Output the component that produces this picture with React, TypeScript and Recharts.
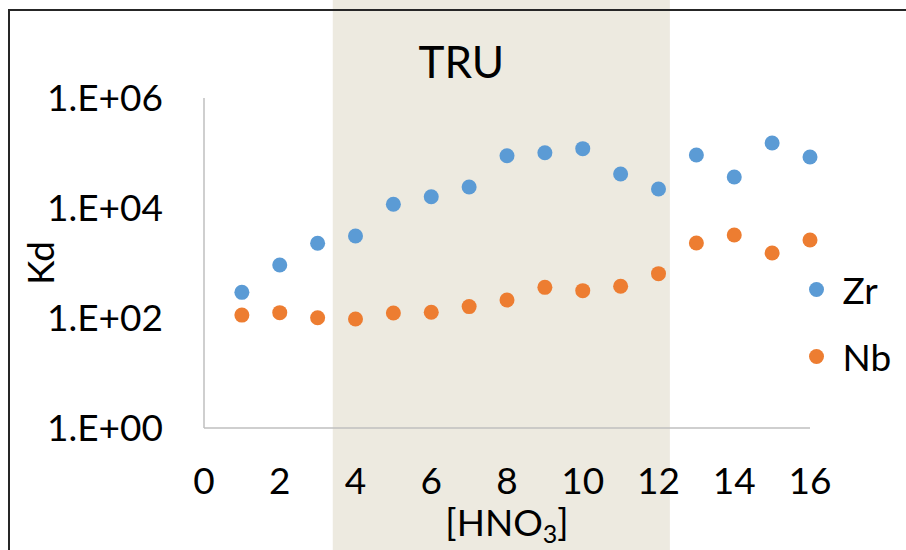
import React from 'react'
import { Label, Legend, ReferenceArea, Scatter, ScatterChart, XAxis, YAxis } from 'recharts'

const hno3 = [1, 2, 3, 4, 5, 6, 7, 8, 9, 10, 11, 12, 13, 14, 15, 16]
const zrKd = [293, 920, 2280, 3100, 11700, 16000, 24100, 89300, 101000, 120000, 41500, 22200, 92000, 36600, 152000, 84600]
const nbKd = [113, 125, 101, 96, 123, 127, 161, 212, 361, 314, 377, 640, 2310, 3230, 1520, 2620]
const xTicks = [0, 2, 4, 6, 8, 10, 12, 14, 16]
const yTicks = [1, 100, 10000, 1000000]
const truRange = [3.4, 12.3]

const series = [
  { name: 'Zr', color: '#5B9BD5', values: zrKd },
  { name: 'Nb', color: '#ED7D31', values: nbKd }
]

const W = 906
const H = 550
const font = 'Lato, "Open Sans", sans-serif'

const fmtExp = (v: number) => {
  const e = Math.round(Math.log10(v))
  return `1.E+${String(e).padStart(2, '0')}`
}

const Dot = (color: string) => (p: any) => <circle cx={p.cx} cy={p.cy} r={7.5} fill={color} />

const LegendBox = () => (
  <div style={{ fontFamily: font, fontSize: 37, color: '#000' }}>
    {series.map((s) => (
      <div key={s.name} style={{ display: 'flex', alignItems: 'center', height: 67 }}>
        <span style={{ width: 15, height: 15, borderRadius: '50%', background: s.color, marginLeft: 2.5, marginRight: 19 }} />
        <span style={{ lineHeight: '37px' }}>{s.name}</span>
      </div>
    ))}
  </div>
)

export default function App() {
  return (
    <div style={{ position: 'absolute', left: 0, top: 0, width: W, height: H, overflow: 'hidden', background: '#fff', fontFamily: font }}>
      <ScatterChart width={W} height={H} margin={{ top: 98, right: 96, left: 0, bottom: 0 }}>
        <ReferenceArea
          x1={truRange[0]}
          x2={truRange[1]}
          ifOverflow="visible"
          shape={(p: any) => <rect x={p.x} y={0} width={p.width} height={H} fill="#EDEAE0" />}
        >
          <Label value="TRU" position="top" offset={20} dx={-40} style={{ fontSize: 44, fill: '#000', fontFamily: font }} />
        </ReferenceArea>
        <XAxis
          type="number"
          dataKey="x"
          domain={[0, 16]}
          ticks={xTicks}
          height={122}
          tickLine={false}
          tickMargin={34}
          axisLine={{ stroke: '#BFBFBF', strokeWidth: 1.5 }}
          tick={{ fontSize: 37, fill: '#000', fontFamily: font }}
        >
          <Label
            content={(p: any) => {
              const vb = p.viewBox
              return (
                <text x={vb.x + vb.width / 2} y={vb.y + 108} textAnchor="middle" fontSize={37} fontFamily={font} fill="#000">
                  <tspan>[HNO</tspan>
                  <tspan fontSize={25} dy={7}>3</tspan>
                  <tspan dy={-7}>]</tspan>
                </text>
              )
            }}
          />
        </XAxis>
        <YAxis
          type="number"
          dataKey="y"
          scale="log"
          domain={[1, 1000000]}
          ticks={yTicks}
          width={204}
          tickLine={false}
          tickMargin={35}
          tickFormatter={fmtExp}
          axisLine={{ stroke: '#BFBFBF', strokeWidth: 1.5 }}
          tick={{ fontSize: 37, fill: '#000', fontFamily: font }}
        >
          <Label value="Kd" angle={-90} position="center" dx={-61} style={{ fontSize: 37, fill: '#000', fontFamily: font }} />
        </YAxis>
        <Legend
          layout="vertical"
          align="center"
          verticalAlign="middle"
          wrapperStyle={{ left: 806, top: 256, width: 100 }}
          content={() => <LegendBox />}
        />
        {series.map((s) => (
          <Scatter
            key={s.name}
            name={s.name}
            data={hno3.map((x, i) => ({ x, y: s.values[i] }))}
            fill={s.color}
            shape={Dot(s.color)}
            isAnimationActive={false}
          />
        ))}
      </ScatterChart>
      <div
        style={{
          position: 'absolute',
          left: 8,
          top: 9,
          width: 1000,
          height: 1000,
          border: '2px solid #262626',
          pointerEvents: 'none'
        }}
      />
    </div>
  )
}
